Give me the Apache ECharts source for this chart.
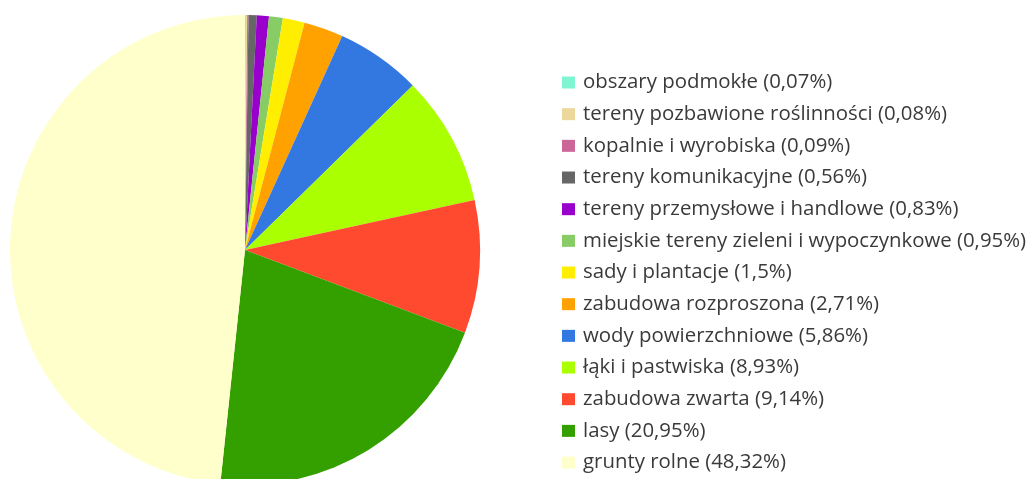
<!DOCTYPE html>
<html>
<head>
<meta charset="utf-8">
<script src="https://cdn.jsdelivr.net/npm/echarts@6/dist/echarts.min.js"></script>
<style>
  html, body { margin: 0; padding: 0; background: #fff; }
  #chart { width: 1032px; height: 479px; }
</style>
</head>
<body>
<div id="chart"></div>
<script>
// Land-use shares (%) drawn clockwise from 12 o'clock
const categories = [
  'obszary podmokłe',
  'tereny pozbawione roślinności',
  'kopalnie i wyrobiska',
  'tereny komunikacyjne',
  'tereny przemysłowe i handlowe',
  'miejskie tereny zieleni i wypoczynkowe',
  'sady i plantacje',
  'zabudowa rozproszona',
  'wody powierzchniowe',
  'łąki i pastwiska',
  'zabudowa zwarta',
  'lasy',
  'grunty rolne'
];
const shares = [0.07, 0.08, 0.09, 0.56, 0.83, 0.95, 1.5, 2.71, 5.86, 8.93, 9.14, 20.95, 48.32];
const colors = [
  '#7ff5d2', '#ecd89a', '#cc6699', '#666666', '#9900cc', '#88cc66', '#ffee00',
  '#ffa200', '#3377e0', '#aaff00', '#ff4a30', '#33a000', '#ffffcc'
];

function pl(v) { return String(v).replace('.', ','); }

const data = categories.map((name, i) => ({
  name: name,
  value: shares[i],
  itemStyle: { color: colors[i] }
}));

const chart = echarts.init(document.getElementById('chart'), null, { renderer: 'canvas' });
chart.setOption({
  animation: false,
  legend: {
    orient: 'vertical',
    left: 557,
    top: 67.5,
    height: 470,
    padding: 5,
    itemWidth: 13,
    itemHeight: 12,
    itemGap: 11.67,
    icon: 'rect',
    data: categories,
    formatter: function (name) {
      const i = categories.indexOf(name);
      return name + ' (' + pl(shares[i]) + '%)';
    },
    textStyle: {
      fontFamily: 'Open Sans',
      fontSize: 20.4,
      color: '#3a3a3a',
      lineHeight: 20,
      padding: [0, 0, 0, 3]
    }
  },
  series: [{
    type: 'pie',
    center: [245, 250],
    radius: 235,
    startAngle: 90,
    clockwise: true,
    avoidLabelOverlap: false,
    label: { show: false },
    labelLine: { show: false },
    emphasis: { disabled: true },
    itemStyle: { borderWidth: 0 },
    data: data
  }]
});
</script>
</body>
</html>
